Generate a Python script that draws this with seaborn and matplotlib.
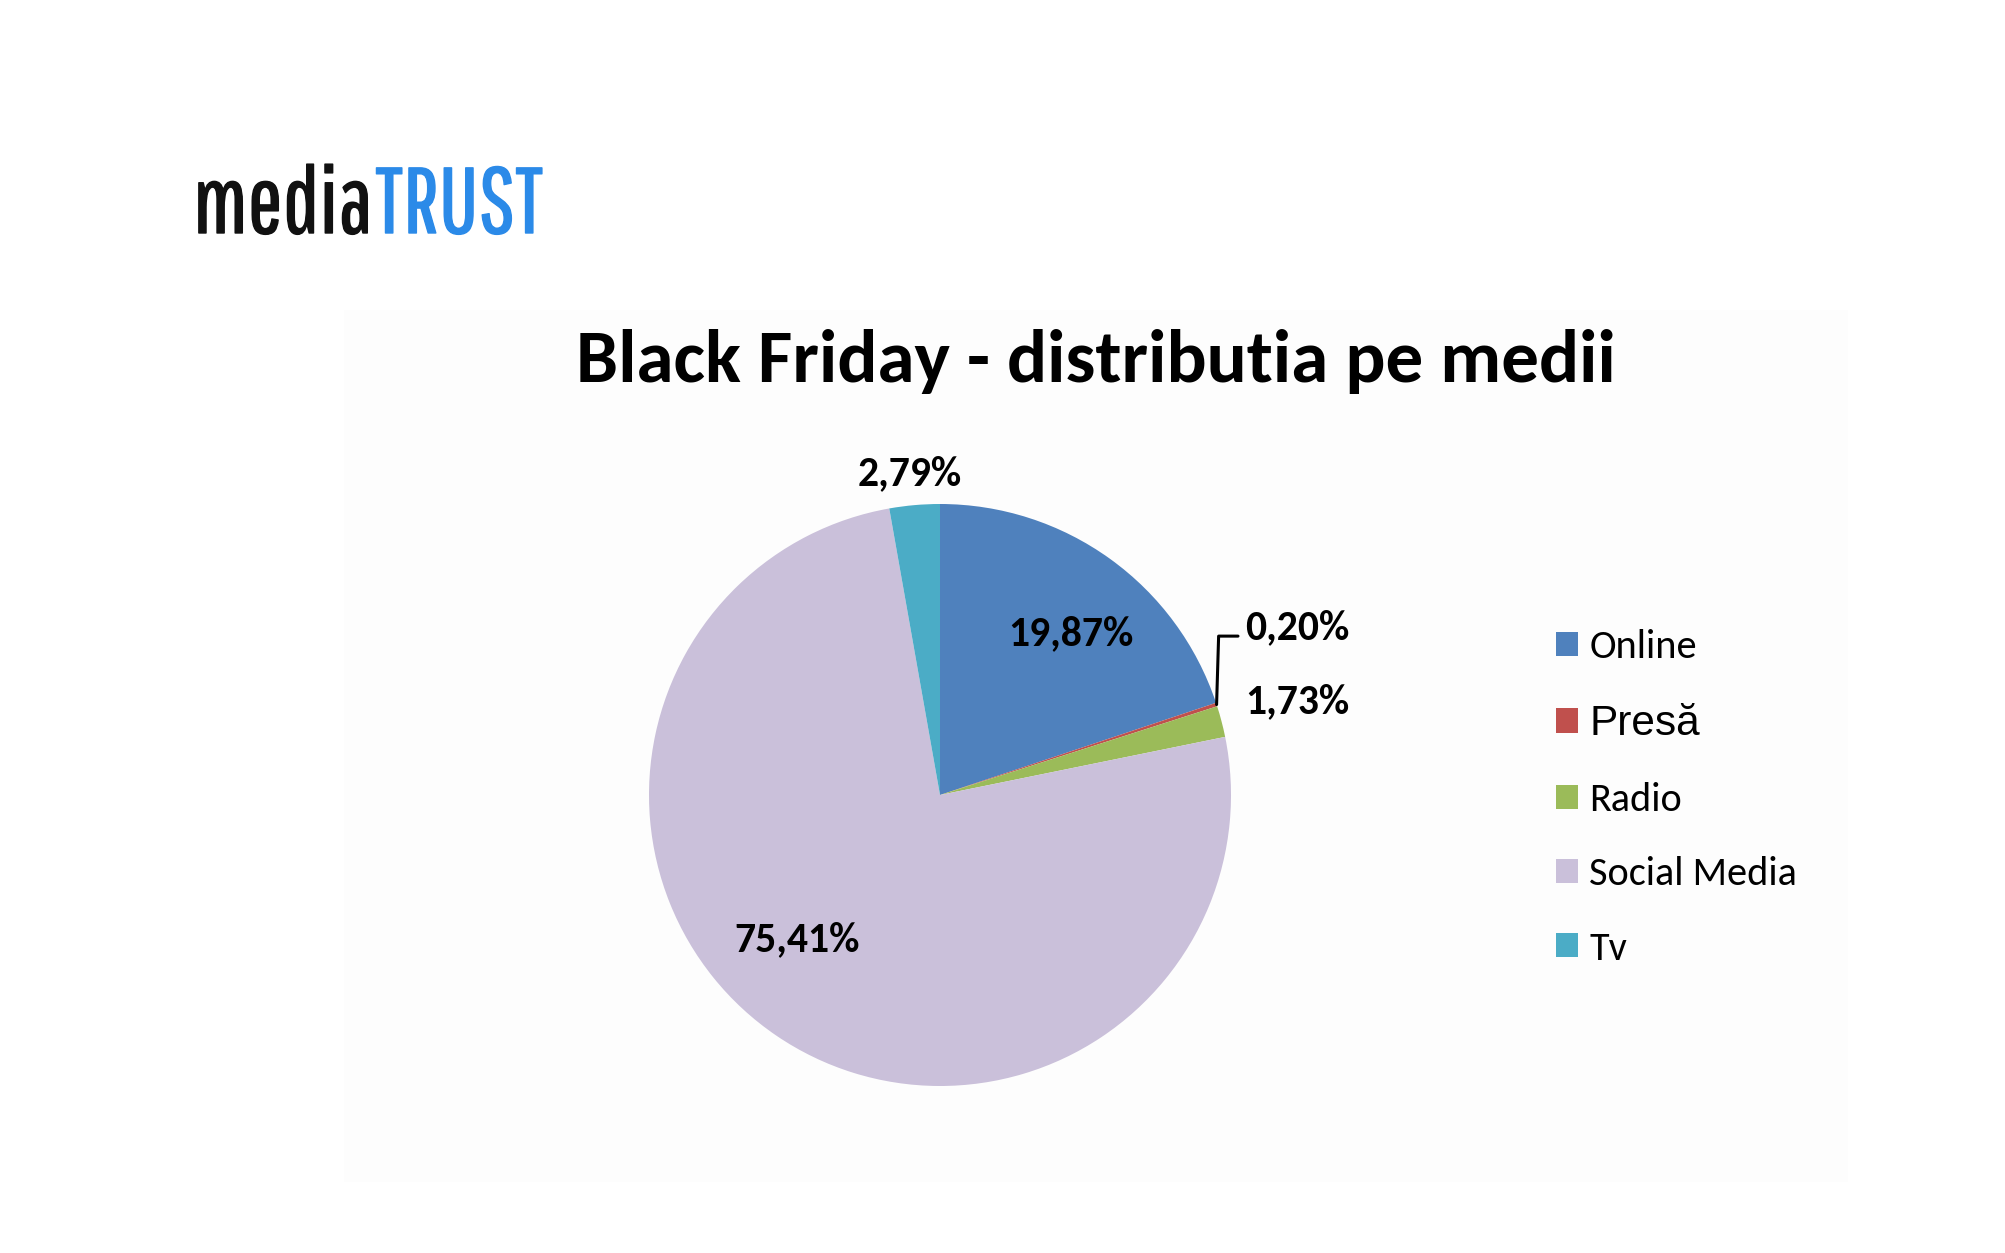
import matplotlib
matplotlib.use("Agg")
import matplotlib.pyplot as plt
import matplotlib.patheffects as pe
from matplotlib.patches import Rectangle, Patch
from matplotlib.lines import Line2D
import numpy as np
import seaborn as sns

# --- data -------------------------------------------------------------
categories = ["Online", "Presă", "Radio", "Social Media", "Tv"]
shares = [19.87, 0.20, 1.73, 75.41, 2.79]
slice_colors = ["#4f81bd", "#c0504d", "#9bbb59", "#cac0da", "#4bacc6"]
title_text = "Black Friday - distributia pe medii"

# label anchors in pie-radius units: (x, y, horizontal alignment)
label_anchor = {
    "Online": (0.450, 0.553, "center"),
    "Presă": (1.048, 0.574, "left"),
    "Radio": (1.048, 0.320, "left"),
    "Social Media": (-0.491, -0.498, "center"),
    "Tv": (-0.103, 1.103, "center"),
}

sns.set_theme(style="white")
BODY = ["Carlito", "Lato", "DejaVu Sans"]
plt.rcParams["font.family"] = BODY

W, H = 2005, 1253
fig = plt.figure(figsize=(W / 100, H / 100), dpi=100)
fig.patch.set_facecolor("white")


def fx(px):
    return px / W


def fy(py):
    return 1 - py / H


# light panel behind the chart
fig.patches.append(Rectangle((fx(344), fy(1182)), (1848 - 344) / W, (1182 - 310) / H,
                             transform=fig.transFigure, facecolor="#fdfdfd",
                             edgecolor="none", zorder=-5))

# logo
LOGO = ["Pathway Gothic One", "Saira Extra Condensed", "Sofia Sans Extra Condensed",
        "Barlow Condensed", "DejaVu Sans"]
logo_size = 67
t1 = fig.text(fx(193), fy(233), "media", family=LOGO, fontsize=logo_size,
              color="#111111", ha="left", va="baseline",
              path_effects=[pe.withStroke(linewidth=1.0, foreground="#111111")])
fig.canvas.draw()
bb = t1.get_window_extent()
fig.text((bb.x1 + 3) / W, fy(233), "TRUST", family=LOGO, fontsize=logo_size,
         color="#2b8ae8", ha="left", va="baseline",
         path_effects=[pe.withStroke(linewidth=1.0, foreground="#2b8ae8")])

# title
fig.text(fx(1096), fy(362), title_text, fontsize=54, fontweight="bold",
         color="black", ha="center", va="center")

# pie
cx, cy, r = 940, 795, 291
ax = fig.add_axes([fx(cx - r), fy(cy + r), 2 * r / W, 2 * r / H])
wedges, _ = ax.pie(shares, colors=sns.color_palette(slice_colors), startangle=90,
                   counterclock=False, radius=1.0,
                   wedgeprops=dict(linewidth=0))
ax.set_xlim(-1, 1)
ax.set_ylim(-1, 1)
ax.axis("off")

for cat, val in zip(categories, shares):
    x, y, ha = label_anchor[cat]
    ax.text(x, y, f"{val:.2f}".replace(".", ",") + "%", fontsize=30,
            fontweight="bold", color="black", ha=ha, va="center", clip_on=False)

# leader line for the thin Presă slice
w = wedges[categories.index("Presă")]
mid = np.deg2rad((w.theta1 + w.theta2) / 2)
sx, sy = np.cos(mid), np.sin(mid)
ex, ey = label_anchor["Presă"][0] - 0.024, label_anchor["Presă"][1] - 0.028
ax.add_line(Line2D([sx, sx + 0.007, ex], [sy, ey, ey], color="black", lw=2.2,
                   clip_on=False))

# legend
handles = [Patch(facecolor=c, edgecolor="none") for c in slice_colors]
leg = fig.legend(handles, categories, loc="center left",
                 bbox_to_anchor=(fx(1556), fy(798)), frameon=False,
                 fontsize=29, handlelength=0.55, handleheight=0.55,
                 handletextpad=0.28, labelspacing=0.95, borderpad=0,
                 borderaxespad=0)
for txt in leg.get_texts():
    txt.set_color("black")
presa = leg.get_texts()[1]
presa.set_fontfamily(["Liberation Sans", "Arimo", "DejaVu Sans"])
presa.set_fontsize(30.5)

fig.savefig("out.png", dpi=100, facecolor="white")
